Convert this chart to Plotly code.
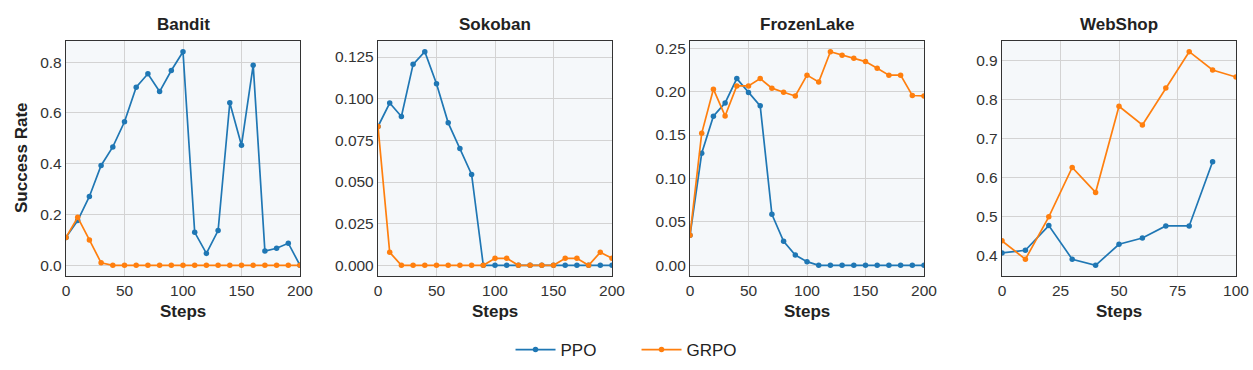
import plotly.graph_objects as go

# ---- data ----
steps200 = list(range(0, 201, 10))
steps100 = list(range(0, 101, 10))
steps90 = list(range(0, 91, 10))

bandit_ppo = [0.11, 0.176, 0.271, 0.393, 0.466, 0.565, 0.701, 0.754, 0.684, 0.767, 0.841,
              0.130, 0.047, 0.137, 0.640, 0.473, 0.788, 0.056, 0.067, 0.087, 0.0]
bandit_grpo = [0.11, 0.189, 0.10, 0.01, 0.0, 0.0, 0.0, 0.0, 0.0, 0.0, 0.0,
               0.0, 0.0, 0.0, 0.0, 0.0, 0.0, 0.0, 0.0, 0.0, 0.0]

sokoban_ppo = [0.0833, 0.0974, 0.0893, 0.1206, 0.1282, 0.109, 0.0855, 0.0701, 0.0545, 0.0, 0.0,
               0.0, 0.0, 0.0, 0.0, 0.0, 0.0, 0.0, 0.0, 0.0, 0.0]
sokoban_grpo = [0.0833, 0.0078, 0.0, 0.0, 0.0, 0.0, 0.0, 0.0, 0.0, 0.0, 0.0042,
                0.0042, 0.0, 0.0, 0.0, 0.0, 0.0042, 0.0042, 0.0, 0.0078, 0.0042]

frozen_ppo = [0.0346, 0.129, 0.1717, 0.187, 0.215, 0.199, 0.1836, 0.0588, 0.0276, 0.0119, 0.0042,
              0.0, 0.0, 0.0, 0.0, 0.0, 0.0, 0.0, 0.0, 0.0, 0.0]
frozen_grpo = [0.0346, 0.152, 0.2028, 0.172, 0.2066, 0.2066, 0.215, 0.204, 0.1993, 0.195, 0.219,
               0.211, 0.246, 0.242, 0.2385, 0.2346, 0.227, 0.219, 0.219, 0.1955, 0.195]

webshop_ppo = [0.4068, 0.4137, 0.477, 0.3906, 0.375, 0.429, 0.445, 0.476, 0.476, 0.6406]
webshop_grpo = [0.4377, 0.3906, 0.4993, 0.626, 0.562, 0.783, 0.735, 0.830, 0.923, 0.876, 0.858]

titles = ["Bandit", "Sokoban", "FrozenLake", "WebShop"]
series = [
    (steps200, bandit_ppo, steps200, bandit_grpo),
    (steps200, sokoban_ppo, steps200, sokoban_grpo),
    (steps200, frozen_ppo, steps200, frozen_grpo),
    (steps90, webshop_ppo, steps100, webshop_grpo),
]
xranges = [[0, 200], [0, 200], [0, 200], [0, 100]]
xticks = [[0, 50, 100, 150, 200]] * 3 + [[0, 25, 50, 75, 100]]
yticks = [
    [0.0, 0.2, 0.4, 0.6, 0.8],
    [0.0, 0.025, 0.05, 0.075, 0.1, 0.125],
    [0.0, 0.05, 0.1, 0.15, 0.2, 0.25],
    [0.4, 0.5, 0.6, 0.7, 0.8, 0.9],
]
yfmt = [".1f", ".3f", ".2f", ".1f"]

PPO_C = "#1f77b4"
GRPO_C = "#ff7f0e"
W, H = 1253, 370
left_px = [66, 378, 690, 1002]
pw = 234
top_px, bot_px = 41, 276

fig = go.Figure()
FONT = "Liberation Sans, Arial, sans-serif"
TICKF = dict(size=15.5, color="#333333", family=FONT)

for i in range(4):
    xa = "x" if i == 0 else f"x{i+1}"
    ya = "y" if i == 0 else f"y{i+1}"
    px, py, gx, gy = series[i]
    fig.add_trace(go.Scatter(x=px, y=py, mode="lines+markers", name="PPO",
                             line=dict(color=PPO_C, width=1.7), marker=dict(size=5.5, color=PPO_C),
                             xaxis=xa, yaxis=ya, showlegend=(i == 0), legendrank=1))
    fig.add_trace(go.Scatter(x=gx, y=gy, mode="lines+markers", name="GRPO",
                             line=dict(color=GRPO_C, width=1.7), marker=dict(size=5.5, color=GRPO_C),
                             xaxis=xa, yaxis=ya, showlegend=(i == 0), legendrank=2))
    allv = py + gy
    lo, hi = min(allv), max(allv)
    m = (hi - lo) * 0.05
    dom_x = [left_px[i] / W, (left_px[i] + pw) / W]
    dom_y = [1 - bot_px / H, 1 - top_px / H]
    axx = dict(domain=dom_x, range=xranges[i], tickvals=xticks[i], showgrid=True,
               gridcolor="#d3d3d3", gridwidth=1, zeroline=False, showline=True, mirror=True,
               linecolor="#333333", linewidth=1.3, ticks="",
               anchor=ya, automargin=False, tickfont=TICKF)
    axy = dict(domain=dom_y, range=[lo - m, hi + m], tickvals=yticks[i], tickformat=yfmt[i],
               showgrid=True, gridcolor="#d3d3d3", gridwidth=1, zeroline=False, showline=True,
               mirror=True, linecolor="#333333", linewidth=1.3, ticks="",
               anchor=xa, automargin=False, tickfont=TICKF)
    fig.layout["xaxis" if i == 0 else f"xaxis{i+1}"] = axx
    fig.layout["yaxis" if i == 0 else f"yaxis{i+1}"] = axy
    cx = (left_px[i] + pw / 2) / W
    fig.add_annotation(text=f"<b>{titles[i]}</b>", x=cx, y=1 - 25 / H, xref="paper", yref="paper",
                       showarrow=False, font=dict(size=17, color="#222222", family=FONT),
                       xanchor="center", yanchor="middle")
    fig.add_annotation(text="<b>Steps</b>", x=cx, y=1 - 311 / H, xref="paper", yref="paper",
                       showarrow=False, font=dict(size=17, color="#222222", family=FONT),
                       xanchor="center", yanchor="middle")

fig.add_annotation(text="<b>Success Rate</b>", x=21 / W, y=1 - 158 / H, xref="paper", yref="paper",
                   showarrow=False, textangle=-90, font=dict(size=17, color="#222222", family=FONT),
                   xanchor="center", yanchor="middle")

fig.update_layout(
    width=W, height=H,
    margin=dict(l=0, r=0, t=0, b=0),
    paper_bgcolor="white",
    plot_bgcolor="#f5f8fa",
    font=dict(family=FONT, color="#333333"),
    legend=dict(orientation="h", x=0.508, xanchor="center", y=1 - 350 / H, yanchor="middle",
                font=dict(size=17, color="#222222", family=FONT),
                itemwidth=40, entrywidth=71, entrywidthmode="pixels",
                traceorder="normal", bgcolor="rgba(0,0,0,0)"),
)

fig.write_html("out.html", config={"displayModeBar": False},
               post_script="document.body.style.margin='0';document.body.style.overflow='hidden';")
